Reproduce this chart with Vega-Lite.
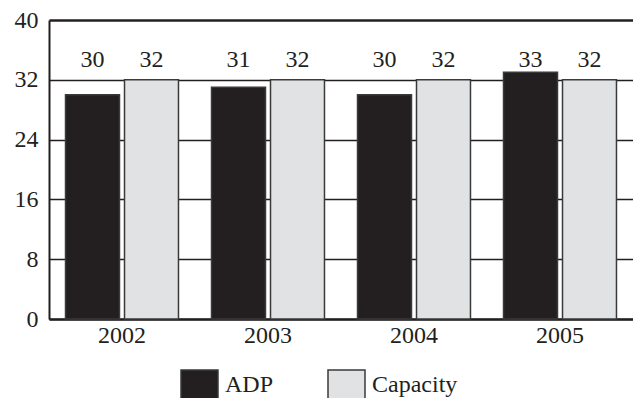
{
  "$schema": "https://vega.github.io/schema/vega-lite/v6.json",
  "width": 584,
  "height": 299,
  "autosize": {"type": "none"},
  "padding": {"left": 49, "top": 20, "right": 0, "bottom": 79},
  "background": "white",
  "data": {
    "values": [
      {"year": "2002", "series": "ADP", "value": 30},
      {"year": "2002", "series": "Capacity", "value": 32},
      {"year": "2003", "series": "ADP", "value": 31},
      {"year": "2003", "series": "Capacity", "value": 32},
      {"year": "2004", "series": "ADP", "value": 30},
      {"year": "2004", "series": "Capacity", "value": 32},
      {"year": "2005", "series": "ADP", "value": 33},
      {"year": "2005", "series": "Capacity", "value": 32}
    ]
  },
  "config": {
    "view": {"stroke": null},
    "font": "Liberation Serif, Times New Roman, serif",
    "axis": {"labelFont": "Liberation Serif, Times New Roman, serif", "labelFontSize": 24, "labelColor": "#231f20", "ticks": false, "title": null}
  },
  "encoding": {
    "x": {
      "field": "year", "type": "nominal",
      "scale": {"paddingInner": 0, "paddingOuter": 0},
      "axis": {"labelAngle": 0, "domainColor": "#231f20", "domainWidth": 2.5, "labelPadding": 4, "grid": false}
    },
    "xOffset": {
      "field": "series", "type": "nominal",
      "scale": {"paddingInner": 0.085, "paddingOuter": 0.28}
    }
  },
  "layer": [
    {
      "mark": {"type": "bar", "stroke": "#3a3a3a", "strokeWidth": 1.5},
      "encoding": {
        "y": {
          "field": "value", "type": "quantitative",
          "scale": {"domain": [0, 40], "nice": false},
          "axis": {
            "values": [0, 8, 16, 24, 32, 40],
            "domainColor": "#231f20", "domainWidth": 2,
            "labelPadding": 11,
            "grid": true, "gridColor": "#231f20",
            "gridWidth": {"condition": {"test": "datum.value == 40", "value": 2.5}, "value": 1.3},
            "gridOpacity": 1
          }
        },
        "color": {
          "field": "series", "type": "nominal",
          "scale": {"domain": ["ADP", "Capacity"], "range": ["#231f20", "#e1e2e4"]},
          "legend": {
            "title": null,
            "orient": "none",
            "legendX": 131,
            "legendY": 345,
            "direction": "horizontal",
            "symbolType": "M-1,-0.78H1V0.78H-1Z",
            "symbolSize": 1369,
            "symbolStrokeColor": "#3a3a3a",
            "symbolStrokeWidth": 1.5,
            "symbolOpacity": 1,
            "labelFont": "Liberation Serif, Times New Roman, serif",
            "labelFontSize": 24,
            "labelColor": "#231f20",
            "labelOffset": 6,
            "columnPadding": 51,
            "padding": 0
          }
        }
      }
    },
    {
      "mark": {"type": "text", "font": "Liberation Serif, Times New Roman, serif", "fontSize": 24, "color": "#231f20", "baseline": "alphabetic"},
      "encoding": {
        "y": {"datum": 33.7, "type": "quantitative"},
        "text": {"field": "value", "type": "quantitative"}
      }
    }
  ]
}
